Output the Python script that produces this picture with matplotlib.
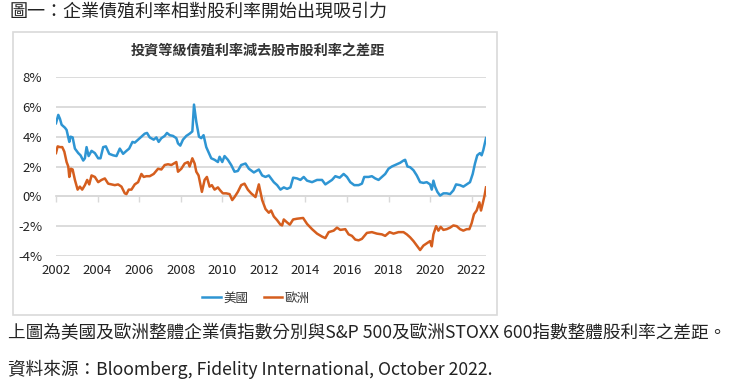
import matplotlib
matplotlib.use('Agg')
import matplotlib.pyplot as plt
import matplotlib.patches as mpatches

plt.rcParams['font.family'] = ['Noto Sans CJK TC', 'DejaVu Sans']
plt.rcParams['axes.unicode_minus'] = False

# データ
us_dates = [2002.00, 2002.11, 2002.19, 2002.27, 2002.43, 2002.51, 2002.64, 2002.70, 2002.80, 2002.91,
            2003.07, 2003.18, 2003.31, 2003.39, 2003.47, 2003.57, 2003.71, 2003.87, 2004.03, 2004.14,
            2004.27, 2004.40, 2004.56, 2004.75, 2004.91, 2005.07, 2005.23, 2005.39, 2005.52, 2005.68,
            2005.79, 2005.95, 2006.11, 2006.27, 2006.38, 2006.51, 2006.70, 2006.83, 2006.94, 2007.07,
            2007.23, 2007.34, 2007.47, 2007.63, 2007.79, 2007.87, 2007.98, 2008.11, 2008.27, 2008.43,
            2008.56, 2008.64, 2008.75, 2008.88, 2008.99, 2009.10, 2009.23, 2009.36, 2009.47, 2009.63,
            2009.79, 2009.87, 2010.00, 2010.11, 2010.27, 2010.43, 2010.59, 2010.75, 2010.91, 2011.12,
            2011.28, 2011.52, 2011.76, 2011.92, 2012.08, 2012.24, 2012.48, 2012.64, 2012.80, 2012.96,
            2013.12, 2013.28, 2013.41, 2013.60, 2013.76, 2013.92, 2014.08, 2014.32, 2014.56, 2014.80,
            2014.96, 2015.12, 2015.28, 2015.44, 2015.65, 2015.84, 2016.00, 2016.16, 2016.35, 2016.56,
            2016.72, 2016.83, 2017.04, 2017.20, 2017.36, 2017.52, 2017.68, 2017.84, 2018.00, 2018.16,
            2018.40, 2018.56, 2018.72, 2018.80, 2018.91, 2019.04, 2019.20, 2019.36, 2019.52, 2019.68,
            2019.84, 2020.00, 2020.08, 2020.16, 2020.24, 2020.35, 2020.48, 2020.64, 2020.80, 2020.96,
            2021.12, 2021.25, 2021.44, 2021.60, 2021.76, 2021.92, 2022.05, 2022.16, 2022.27, 2022.40,
            2022.48, 2022.56, 2022.69]
us_spread = [4.9, 5.46, 5.2, 4.8, 4.6, 4.45, 3.65, 4.0, 3.95, 3.2,
             2.9, 2.75, 2.4, 2.55, 3.3, 2.7, 3.05, 2.9, 2.55, 2.55,
             3.3, 3.35, 2.85, 2.75, 2.7, 3.2, 2.85, 3.05, 3.2, 3.65,
             3.6, 3.8, 4.0, 4.2, 4.25, 3.95, 3.8, 3.95, 3.65, 3.9,
             4.05, 4.25, 4.1, 4.05, 3.9, 3.55, 3.4, 3.8, 4.05, 4.2,
             4.35, 6.15, 5.0, 4.0, 3.9, 4.1, 3.3, 2.9, 2.55, 2.45,
             2.3, 2.65, 2.3, 2.7, 2.45, 2.1, 1.65, 1.7, 2.1, 2.2,
             1.85, 1.6, 1.8, 1.4, 1.3, 1.4, 0.95, 0.75, 0.45, 0.6,
             0.5, 0.6, 1.25, 1.2, 1.1, 1.3, 1.05, 0.95, 1.1, 1.1,
             0.8, 0.95, 1.1, 1.35, 1.25, 1.5, 1.3, 0.95, 0.75, 0.75,
             0.85, 1.3, 1.3, 1.35, 1.2, 1.1, 1.3, 1.5, 1.85, 2.0,
             2.15, 2.25, 2.4, 2.45, 2.0, 1.95, 1.75, 1.4, 0.95, 0.9,
             0.95, 0.8, 0.45, 1.05, 0.65, 0.3, 0.05, 0.2, 0.2, 0.15,
             0.4, 0.8, 0.75, 0.65, 0.8, 0.95, 1.5, 2.2, 2.75, 2.9,
             2.75, 3.1, 3.9]

eu_dates = [2002.00, 2002.08, 2002.19, 2002.30, 2002.40, 2002.51, 2002.59, 2002.64, 2002.72, 2002.80,
            2002.91, 2003.04, 2003.15, 2003.26, 2003.39, 2003.50, 2003.60, 2003.71, 2003.87, 2004.03,
            2004.19, 2004.35, 2004.51, 2004.67, 2004.83, 2004.99, 2005.15, 2005.31, 2005.39, 2005.50,
            2005.63, 2005.79, 2005.95, 2006.11, 2006.22, 2006.35, 2006.51, 2006.70, 2006.91, 2007.07,
            2007.23, 2007.39, 2007.55, 2007.79, 2007.87, 2008.03, 2008.19, 2008.35, 2008.43, 2008.56,
            2008.67, 2008.75, 2008.86, 2008.94, 2009.02, 2009.15, 2009.26, 2009.39, 2009.50, 2009.63,
            2009.79, 2009.90, 2010.03, 2010.19, 2010.35, 2010.48, 2010.59, 2010.75, 2010.91, 2011.07,
            2011.23, 2011.39, 2011.60, 2011.76, 2011.92, 2012.08, 2012.24, 2012.35, 2012.48, 2012.64,
            2012.80, 2012.88, 2012.96, 2013.12, 2013.25, 2013.41, 2013.60, 2013.89, 2014.08, 2014.32,
            2014.56, 2014.80, 2014.96, 2015.12, 2015.36, 2015.52, 2015.68, 2015.92, 2016.08, 2016.24,
            2016.40, 2016.56, 2016.72, 2016.96, 2017.20, 2017.44, 2017.68, 2017.84, 2018.05, 2018.24,
            2018.48, 2018.72, 2018.88, 2019.04, 2019.20, 2019.36, 2019.52, 2019.68, 2019.84, 2020.00,
            2020.08, 2020.16, 2020.29, 2020.40, 2020.51, 2020.64, 2020.80, 2020.96, 2021.12, 2021.28,
            2021.44, 2021.60, 2021.76, 2021.89, 2022.00, 2022.11, 2022.24, 2022.37, 2022.45, 2022.53,
            2022.62, 2022.69]
eu_spread = [2.9, 3.35, 3.3, 3.3, 3.0, 2.3, 2.0, 1.3, 1.85, 1.8,
             1.1, 0.45, 0.65, 0.45, 0.75, 1.1, 0.8, 1.4, 1.3, 0.95,
             1.1, 1.2, 0.85, 0.8, 0.75, 0.8, 0.65, 0.2, 0.15, 0.45,
             0.45, 0.8, 0.95, 1.5, 1.3, 1.35, 1.35, 1.5, 1.85, 1.8,
             2.1, 2.15, 2.1, 2.3, 1.65, 1.85, 2.2, 2.3, 2.0, 2.55,
             2.2, 1.65, 1.4, 0.85, 0.3, 1.1, 1.3, 0.65, 0.75, 0.45,
             0.6, 0.4, 0.2, 0.2, 0.15, -0.25, -0.05, 0.3, 0.75, 0.85,
             0.45, 0.2, -0.05, 0.8, -0.25, -0.85, -1.1, -0.95, -1.35, -1.6,
             -1.9, -1.95, -1.55, -1.75, -1.9, -1.55, -1.5, -1.45, -1.85, -2.2,
             -2.5, -2.7, -2.8, -2.4, -2.3, -2.1, -2.25, -2.2, -2.55, -2.65,
             -2.9, -2.95, -2.85, -2.45, -2.4, -2.5, -2.55, -2.65, -2.4, -2.5,
             -2.4, -2.4, -2.55, -2.75, -3.0, -3.3, -3.6, -3.3, -3.15, -3.0,
             -3.35, -2.55, -2.0, -2.3, -2.05, -2.25, -2.2, -2.1, -1.95, -2.0,
             -2.2, -2.3, -2.2, -2.2, -1.8, -1.2, -0.95, -0.4, -0.95, -0.5,
             0.05, 0.6]

x_ticks = [2002, 2004, 2006, 2008, 2010, 2012, 2014, 2016, 2018, 2020, 2022]
y_ticks = [-4, -2, 0, 2, 4, 6, 8]

us_color = '#2E95D3'
eu_color = '#D55E1E'
grid_color = '#D9D9D9'

W, H = 740, 385
fig = plt.figure(figsize=(W / 100, H / 100), dpi=100)

# 外枠
fig.patches.append(mpatches.Rectangle((13 / W, 1 - 315 / H), (497 - 13) / W, (315 - 32) / H,
                                      transform=fig.transFigure, fill=False,
                                      edgecolor='#D9D9D9', linewidth=1.2))

ax = fig.add_axes([56 / W, 1 - 256 / H, (486 - 56) / W, (256 - 77) / H])
ax.plot(us_dates, us_spread, color=us_color, linewidth=1.8, label='美國', zorder=3)
ax.plot(eu_dates, eu_spread, color=eu_color, linewidth=1.8, label='歐洲', zorder=3)

ax.set_xlim(us_dates[0], us_dates[-1])
ax.set_ylim(-4, 8)
ax.set_yticks(y_ticks)
ax.set_yticklabels([f'{v}%' for v in y_ticks])
ax.grid(axis='y', color=grid_color, linewidth=1.3)
ax.set_axisbelow(True)
for s in ['top', 'right', 'left']:
    ax.spines[s].set_visible(False)
ax.spines['bottom'].set_position(('data', 0))
ax.spines['bottom'].set_color(grid_color)
ax.spines['bottom'].set_linewidth(1.3)
ax.set_xticks(x_ticks)
ax.tick_params(axis='x', direction='out', length=4, color=grid_color, width=1, labelbottom=False)
ax.tick_params(axis='y', length=0, pad=10, labelsize=9.5, labelcolor='#222222')

# 年ラベルは下端に
sec = ax.secondary_xaxis('bottom')
sec.set_xticks(x_ticks)
sec.set_xticklabels([str(t) for t in x_ticks])
sec.tick_params(length=0, pad=6, labelsize=9.5, labelcolor='#222222')
sec.spines['bottom'].set_visible(False)

fig.text(258 / W, 1 - 52 / H, '投資等級債殖利率減去股市股利率之差距', ha='center', va='center',
         fontsize=10.2, fontweight='bold', color='#333333')

fig.legend(loc='center', bbox_to_anchor=(256 / W, 1 - 298 / H), ncol=2, frameon=False,
           fontsize=9, handlelength=1.5, handletextpad=0.2, columnspacing=1.2,
           labelcolor='#333333')

fig.text(10 / W, 1 - 12 / H, '圖一：企業債殖利率相對股利率開始出現吸引力', ha='left', va='center',
         fontsize=13, color='#222222')
fig.text(8 / W, 1 - 333 / H, '上圖為美國及歐洲整體企業債指數分別與S&P 500及歐洲STOXX 600指數整體股利率之差距。',
         ha='left', va='center', fontsize=12.7, color='#222222')
fig.text(8 / W, 1 - 369 / H, '資料來源：Bloomberg, Fidelity International, October 2022.',
         ha='left', va='center', fontsize=12.7, color='#222222')

fig.savefig('out.png', dpi=100)
